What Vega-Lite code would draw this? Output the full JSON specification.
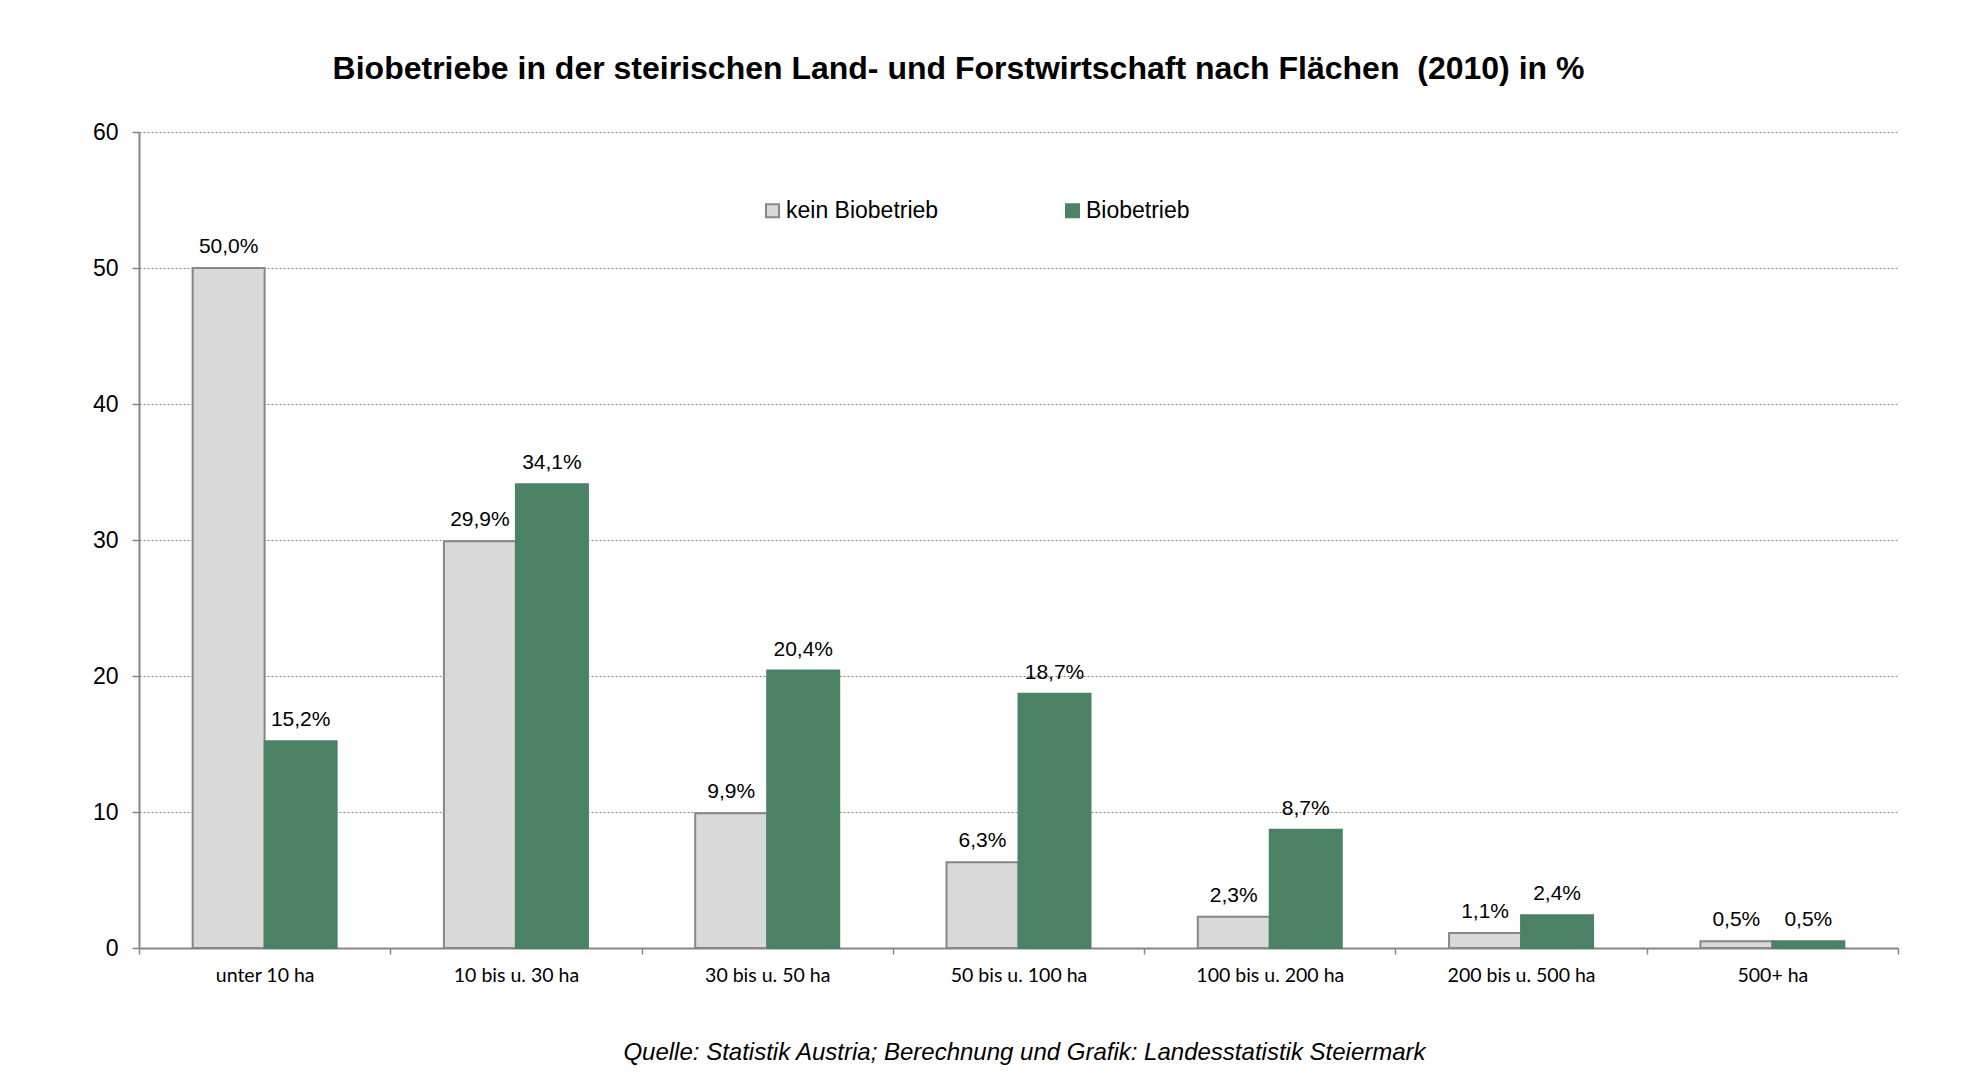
{
  "$schema": "https://vega.github.io/schema/vega-lite/v6.json",
  "width": 1759,
  "height": 816,
  "autosize": {"type": "none"},
  "padding": {"left": 139, "top": 132, "right": 68, "bottom": 139},
  "background": "white",
  "config": {
    "locale": {
      "number": {"decimal": ",", "thousands": ".", "grouping": [3], "currency": ["", "%"]}
    },
    "view": {"stroke": null},
    "font": "Liberation Sans"
  },
  "title": {
    "text": "Biobetriebe in der steirischen Land- und Forstwirtschaft nach Flächen\u00a0 (2010) in %",
    "font": "Liberation Sans",
    "fontSize": 32,
    "fontWeight": "bold",
    "color": "#000000",
    "anchor": "middle",
    "dx": -60,
    "baseline": "alphabetic",
    "offset": 10
  },
  "data": {
    "values": [
      {"flaeche": "unter 10 ha", "gruppe": "kein Biobetrieb", "anteil": 50.0},
      {"flaeche": "unter 10 ha", "gruppe": "Biobetrieb", "anteil": 15.2},
      {"flaeche": "10 bis u. 30 ha", "gruppe": "kein Biobetrieb", "anteil": 29.9},
      {"flaeche": "10 bis u. 30 ha", "gruppe": "Biobetrieb", "anteil": 34.1},
      {"flaeche": "30 bis u. 50 ha", "gruppe": "kein Biobetrieb", "anteil": 9.9},
      {"flaeche": "30 bis u. 50 ha", "gruppe": "Biobetrieb", "anteil": 20.4},
      {"flaeche": "50 bis u. 100 ha", "gruppe": "kein Biobetrieb", "anteil": 6.3},
      {"flaeche": "50 bis u. 100 ha", "gruppe": "Biobetrieb", "anteil": 18.7},
      {"flaeche": "100 bis u. 200 ha", "gruppe": "kein Biobetrieb", "anteil": 2.3},
      {"flaeche": "100 bis u. 200 ha", "gruppe": "Biobetrieb", "anteil": 8.7},
      {"flaeche": "200 bis u. 500 ha", "gruppe": "kein Biobetrieb", "anteil": 1.1},
      {"flaeche": "200 bis u. 500 ha", "gruppe": "Biobetrieb", "anteil": 2.4},
      {"flaeche": "500+ ha", "gruppe": "kein Biobetrieb", "anteil": 0.5},
      {"flaeche": "500+ ha", "gruppe": "Biobetrieb", "anteil": 0.5}
    ]
  },
  "encoding": {
    "x": {
      "field": "flaeche",
      "type": "nominal",
      "sort": null,
      "scale": {"paddingInner": 0, "paddingOuter": 0},
      "axis": {
        "title": "Quelle: Statistik Austria; Berechnung und Grafik: Landesstatistik Steiermark",
        "titleFont": "Liberation Sans",
        "titleFontStyle": "italic",
        "titleFontWeight": "normal",
        "titleFontSize": 24,
        "titleColor": "#000000",
        "titleX": 885,
        "titleY": 111,
        "titleBaseline": "alphabetic",
        "titleAlign": "center",
        "labelAngle": 0,
        "labelFont": "Lato",
        "labelFontSize": 19.5,
        "labelColor": "#000000",
        "labelBaseline": "alphabetic",
        "labelPadding": 27,
        "tickBand": "extent",
        "tickSize": 6,
        "tickColor": "#868686",
        "tickWidth": 1.5,
        "domainColor": "#868686",
        "domainWidth": 2,
        "grid": false
      }
    },
    "xOffset": {
      "field": "gruppe",
      "type": "nominal",
      "sort": ["kein Biobetrieb", "Biobetrieb"],
      "scale": {"domain": ["kein Biobetrieb", "Biobetrieb"], "paddingInner": 0, "paddingOuter": 0.745}
    },
    "y": {
      "field": "anteil",
      "type": "quantitative",
      "scale": {"domain": [0, 60], "nice": false},
      "axis": {
        "title": null,
        "values": [0, 10, 20, 30, 40, 50, 60],
        "labelFont": "Liberation Sans",
        "labelFontSize": 23,
        "labelColor": "#000000",
        "labelPadding": 14,
        "tickSize": 7,
        "tickColor": "#868686",
        "tickWidth": 1.5,
        "domainColor": "#868686",
        "domainWidth": 2,
        "grid": true,
        "gridColor": "#7f7f7f",
        "gridDash": [2, 2],
        "gridWidth": 1
      }
    }
  },
  "layer": [
    {
      "mark": {"type": "bar", "strokeWidth": 2},
      "encoding": {
        "fill": {
          "field": "gruppe",
          "type": "nominal",
          "scale": {"domain": ["kein Biobetrieb", "Biobetrieb"], "range": ["#d9d9d9", "#4b8266"]},
          "legend": {
            "title": null,
            "orient": "none",
            "direction": "horizontal",
            "legendX": 622,
            "legendY": 67,
            "symbolType": "square",
            "symbolSize": 170,
            "symbolStrokeWidth": 2,
            "labelFont": "Liberation Sans",
            "labelFontSize": 23,
            "labelColor": "#000000",
            "labelOffset": 2,
            "columnPadding": 122,
            "padding": 0
          }
        },
        "stroke": {
          "field": "gruppe",
          "type": "nominal",
          "scale": {"domain": ["kein Biobetrieb", "Biobetrieb"], "range": ["#878787", "#4b8266"]},
          "legend": {
            "title": null,
            "orient": "none",
            "direction": "horizontal",
            "legendX": 622,
            "legendY": 67,
            "symbolType": "square",
            "symbolSize": 170,
            "symbolStrokeWidth": 2,
            "labelFont": "Liberation Sans",
            "labelFontSize": 23,
            "labelColor": "#000000",
            "labelOffset": 2,
            "columnPadding": 122,
            "padding": 0
          }
        }
      }
    },
    {
      "mark": {"type": "text", "baseline": "alphabetic", "dy": -15, "font": "Liberation Sans", "fontSize": 21, "color": "#000000"},
      "encoding": {
        "text": {"field": "anteil", "type": "quantitative", "format": "$.1f"}
      }
    }
  ]
}
